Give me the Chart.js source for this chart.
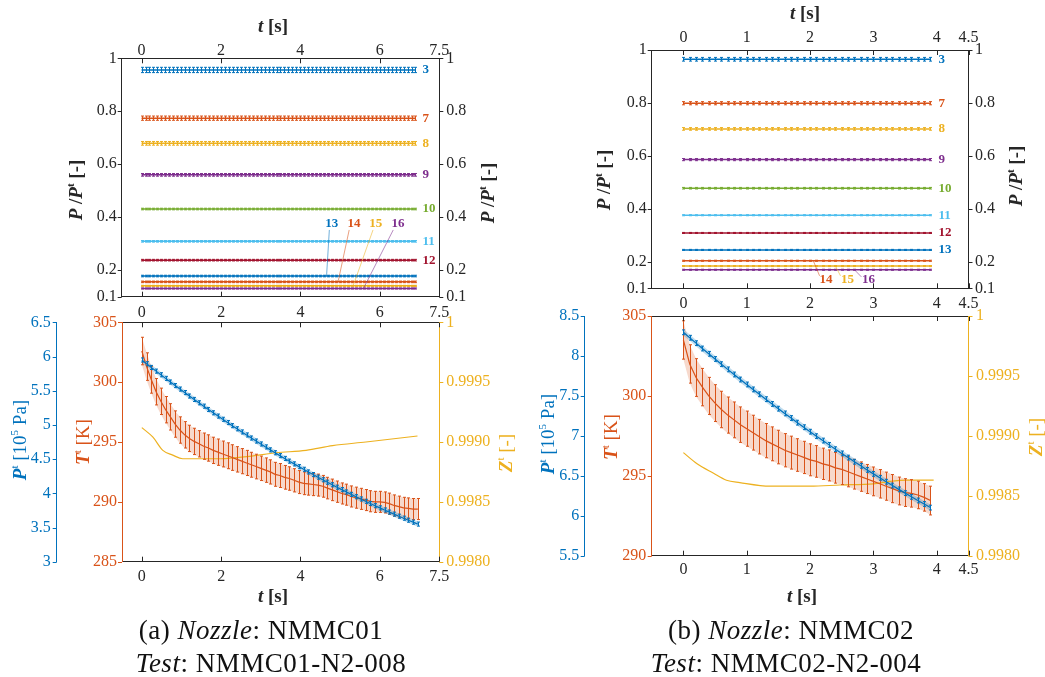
<!DOCTYPE html>
<html>
<head>
<meta charset="utf-8">
<script src="https://cdn.jsdelivr.net/npm/chart.js@4.4.1/dist/chart.umd.min.js"></script>
<style>
  body { margin:0; background:#fff; width:1045px; height:677px; position:relative; overflow:hidden; font-family:"Liberation Serif", serif; }
  canvas { position:absolute; left:0; top:0; }
  .cap { position:absolute; font-size:27px; line-height:30px; color:#111; white-space:nowrap; transform:translateX(-50%); letter-spacing:0.5px; }
</style>
</head>
<body>
<canvas id="cC" width="1045" height="677"></canvas>
<canvas id="cD" width="1045" height="677"></canvas>
<canvas id="cA" width="1045" height="677"></canvas>
<canvas id="cB" width="1045" height="677"></canvas>
<div class="cap" style="left:261px;top:615px">(a) <i>Nozzle</i>: NMMC01</div>
<div class="cap" style="left:271px;top:648px"><i>Test</i>: NMMC01-N2-008</div>
<div class="cap" style="left:791px;top:615px">(b) <i>Nozzle</i>: NMMC02</div>
<div class="cap" style="left:786px;top:648px"><i>Test</i>: NMMC02-N2-004</div>
<script>
// ---- data ----
const probes = [3, 7, 8, 9, 10, 11, 12, 13, 14, 15, 16];

// (a) NMMC01 pressure ratios
const tTop1 = [0,0.1,0.2,0.3,0.4,0.5,0.6,0.7,0.8,0.9,1,1.1,1.2,1.3,1.4,1.5,1.6,1.7,1.8,1.9,
  2,2.1,2.2,2.3,2.4,2.5,2.6,2.7,2.8,2.9,3,3.1,3.2,3.3,3.4,3.5,3.6,3.7,3.8,3.9,
  4,4.1,4.2,4.3,4.4,4.5,4.6,4.7,4.8,4.9,5,5.1,5.2,5.3,5.4,5.5,5.6,5.7,5.8,5.9,
  6,6.1,6.2,6.3,6.4,6.5,6.6,6.7,6.8,6.9];
const ratio1 = [0.956, 0.774, 0.679, 0.560, 0.431, 0.309, 0.238, 0.178, 0.156, 0.141, 0.131];
const ratioErr1 = [0.01, 0.008, 0.007, 0.005, 0.003, 0.003, 0.003, 0.003, 0.003, 0.002, 0.002];

// (b) NMMC02 pressure ratios (time base shared with the lower right plot)
const tB = [0,0.1,0.2,0.3,0.4,0.5,0.6,0.7,0.8,0.9,1,1.1,1.2,1.3,1.4,1.5,1.6,1.7,1.8,1.9,
  2,2.1,2.2,2.3,2.4,2.5,2.6,2.7,2.8,2.9,3,3.1,3.2,3.3,3.4,3.5,3.6,3.7,3.8,3.9];
const ratio2 = [0.965, 0.799, 0.702, 0.586, 0.478, 0.376, 0.309, 0.245, 0.204, 0.184, 0.170];
const ratioErr2 = [0.007, 0.006, 0.005, 0.004, 0.003, 0.002, 0.002, 0.002, 0.002, 0.002, 0.002];

// (a) stagnation conditions
const t1 = [0,0.12,0.24,0.36,0.48,0.6,0.72,0.84,0.96,1.08,1.2,1.32,1.44,1.56,1.68,1.8,1.92,2.04,
  2.16,2.28,2.4,2.52,2.64,2.76,2.88,3,3.12,3.24,3.36,3.48,3.6,3.72,3.84,3.96,
  4.08,4.2,4.32,4.44,4.56,4.68,4.8,4.92,5.04,5.16,5.28,5.4,5.52,5.64,5.76,5.88,
  6,6.12,6.24,6.36,6.48,6.6,6.72,6.84,6.96];
const pTot1 = [5.949,5.894,5.840,5.786,5.733,5.680,5.627,5.575,5.524,5.473,5.422,5.372,5.323,5.274,5.225,5.177,5.129,5.082,
  5.035,4.989,4.943,4.897,4.853,4.808,4.764,4.721,4.678,4.635,4.593,4.551,4.510,4.470,4.430,4.390,
  4.351,4.312,4.274,4.236,4.198,4.162,4.125,4.089,4.054,4.019,3.984,3.950,3.917,3.883,3.851,3.819,
  3.787,3.756,3.725,3.695,3.665,3.636,3.607,3.578,3.550];
const pTotErr1 = 0.03;
const tTot1 = [302.6,301.3,300.2,299.2,298.4,297.7,297.1,296.5,296.0,295.6,295.3,295.05,294.85,294.65,294.5,294.3,294.15,294.0,
  293.85,293.7,293.55,293.4,293.25,293.1,292.95,292.8,292.65,292.5,292.3,292.2,292.05,291.95,291.8,291.65,
  291.55,291.5,291.45,291.4,291.3,291.15,291.0,290.85,290.7,290.6,290.45,290.35,290.25,290.15,290.05,290.0,
  290.0,289.95,289.85,289.7,289.6,289.5,289.45,289.4,289.4];
const tTotErr1 = [1.15,1.15,1.12,1.1,1.1,1.1,1.1,1.1,1.1,1.1,1.1,1.1,1.1,1.1,1.1,1.1,1.1,1.08,
  1.08,1.07,1.06,1.05,1.05,1.04,1.03,1.02,1.02,1.01,1.0,1.0,0.99,0.98,0.97,0.96,
  0.95,0.94,0.93,0.92,0.91,0.9,0.9,0.89,0.88,0.88,0.88,0.88,0.88,0.88,0.88,0.88,
  0.88,0.88,0.88,0.88,0.88,0.88,0.88,0.88,0.88];
const tZ1 = [0, 0.28, 0.53, 0.78, 1.03, 1.45, 1.99, 2.71, 3.38, 4.14, 4.81, 5.65, 6.95];
const zTot1 = [0.99912, 0.99904, 0.99893, 0.99889, 0.99886, 0.99886, 0.99886, 0.99888, 0.99891, 0.99893, 0.99897, 0.99900, 0.99905];

// (b) stagnation conditions
const pTot2 = [8.296,8.228,8.160,8.093,8.027,7.962,7.897,7.832,7.768,7.705,7.643,7.581,7.520,7.459,7.399,7.340,7.281,7.223,7.165,7.108,
  7.052,6.996,6.941,6.887,6.833,6.780,6.728,6.676,6.625,6.574,6.524,6.475,6.426,6.378,6.330,6.283,6.237,6.191,6.147,6.102];
const pTotErr2 = 0.03;
const tTot2 = [303.5,302.0,301.15,300.55,300.0,299.55,299.15,298.8,298.5,298.2,297.95,297.7,297.45,297.2,297.0,296.8,296.6,296.45,296.3,296.15,
  296.0,295.9,295.75,295.65,295.5,295.4,295.25,295.1,294.95,294.8,294.65,294.5,294.35,294.2,294.05,293.95,293.9,293.8,293.65,293.45];
const tTotErr2 = [1.2,1.2,1.18,1.17,1.16,1.15,1.14,1.13,1.12,1.11,1.1,1.09,1.08,1.07,1.06,1.05,1.04,1.03,1.02,1.01,
  1.0,0.99,0.98,0.97,0.96,0.95,0.94,0.93,0.92,0.91,0.9,0.89,0.88,0.88,0.87,0.87,0.86,0.86,0.86,0.9];
const tZ2 = [0, 0.21, 0.47, 0.68, 0.89, 1.37, 2.0, 2.47, 3.0, 3.26, 3.53, 3.95];
const zTot2 = [0.99886, 0.99877, 0.99869, 0.99863, 0.99861, 0.99858, 0.99858, 0.99859, 0.99860, 0.99862, 0.99863, 0.99863];

// ticks
const xTicks1 = [0, 2, 4, 6, 7.5];
const xTicks2 = [0, 1, 2, 3, 4, 4.5];
const ratioTicks = [0.1, 0.2, 0.4, 0.6, 0.8, 1];
const pTicks1 = [3, 3.5, 4, 4.5, 5, 5.5, 6, 6.5];
const pTicks2 = [5.5, 6, 6.5, 7, 7.5, 8, 8.5];
const tTicks1 = [285, 290, 295, 300, 305];
const tTicks2 = [290, 295, 300, 305];
const zTicks = [0.998, 0.9985, 0.999, 0.9995, 1];
const zLabels = ['0.9980', '0.9985', '0.9990', '0.9995', '1'];

// ---- styles ----
const INK = '#262626';
const BLUE = '#0072BD', ORANGE = '#D95319', YELLOW = '#EDB120', PURPLE = '#7E2F8E',
      GREEN = '#77AC30', CYAN = '#4DBEEE', RED = '#A2142F';
const probeColors = [BLUE, ORANGE, YELLOW, PURPLE, GREEN, CYAN, RED, BLUE, ORANGE, YELLOW, PURPLE];

function fnt(style, size) { return style + ' ' + size + 'px "Liberation Serif"'; }

function richText(ctx, parts, x, y, rot, color) {
  ctx.save();
  ctx.translate(x, y);
  ctx.rotate(rot);
  ctx.fillStyle = color;
  ctx.textBaseline = 'alphabetic';
  let w = 0;
  parts.forEach(p => { ctx.font = p[1]; w += ctx.measureText(p[0]).width; });
  let cx = -w / 2;
  parts.forEach(p => {
    ctx.font = p[1];
    ctx.fillText(p[0], cx, 6.5 + (p[2] || 0));
    cx += ctx.measureText(p[0]).width;
  });
  ctx.restore();
}

const tLabel = [['t', fnt('italic bold', 19)], [' [s]', fnt('bold', 19)]];
const ratioLabel = [['P', fnt('italic bold', 19)], [' /', fnt('bold', 19)], ['P', fnt('italic bold', 19)],
                    ['t', fnt('bold', 11), -8], [' [-]', fnt('bold', 19)]];
const pLabel = [['P', fnt('italic bold', 19)], ['t', fnt('', 11), -8], [' [10', fnt('', 19)], ['5', fnt('', 11), -8], [' Pa]', fnt('', 19)]];
const TLabel = [['T', fnt('italic bold', 19)], ['t', fnt('', 11), -8], [' [K]', fnt('', 19)]];
const zLabel = [['Z', fnt('italic bold', 19)], ['t', fnt('', 11), -8], [' [-]', fnt('', 19)]];

function axis(pos, min, max, ticks, size, pad, color, weight, labels, hideLabels) {
  return {
    type: 'linear', position: pos, min: min, max: max, weight: weight || 0,
    afterBuildTicks: s => { s.ticks = ticks.map(v => ({ value: v })); },
    afterFit: s => { if (pos === 'top' || pos === 'bottom') s.height = size; else s.width = size; },
    grid: { display: false, drawTicks: false },
    border: { display: true, color: color, width: 1 },
    ticks: {
      color: hideLabels ? 'rgba(0,0,0,0)' : color, padding: pad, autoSkip: false, maxRotation: 0,
      font: { family: 'Liberation Serif', size: 16, lineHeight: 1 },
      callback: (v, i) => labels ? labels[i] : String(v)
    }
  };
}

const al = v => Math.round(v) + 0.5;

const deco = {
  id: 'deco',
  afterDatasetDraw(chart, args) {
    const ds = chart.data.datasets[args.index];
    if (ds.errs === undefined) return;
    const ctx = chart.ctx, ys = chart.scales[ds.yAxisID];
    ctx.save();
    ctx.strokeStyle = ds.borderColor;
    ctx.lineWidth = 1;
    args.meta.data.forEach((pt, i) => {
      const v = ds.data[i].y;
      const e = Array.isArray(ds.errs) ? ds.errs[i] : ds.errs;
      const x = al(pt.x), y1 = ys.getPixelForValue(v + e), y2 = ys.getPixelForValue(v - e);
      ctx.beginPath();
      ctx.moveTo(x, y1); ctx.lineTo(x, y2);
      ctx.moveTo(x - 1.5, y1); ctx.lineTo(x + 1.5, y1);
      ctx.moveTo(x - 1.5, y2); ctx.lineTo(x + 1.5, y2);
      ctx.stroke();
    });
    ctx.restore();
  },
  afterDraw(chart, args, opts) {
    const ctx = chart.ctx;
    ctx.save();
    ctx.lineWidth = 1;
    Object.values(chart.scales).forEach(s => {
      ctx.strokeStyle = s.options.border.color;
      s.ticks.forEach(tk => {
        const p = al(s.getPixelForValue(tk.value));
        ctx.beginPath();
        if (s.position === 'bottom') { ctx.moveTo(p, s.top); ctx.lineTo(p, s.top - 5); }
        else if (s.position === 'top') { ctx.moveTo(p, s.bottom); ctx.lineTo(p, s.bottom + 5); }
        else if (s.position === 'left') { ctx.moveTo(s.right, p); ctx.lineTo(s.right - 4, p); }
        else { ctx.moveTo(s.left, p); ctx.lineTo(s.left + 4, p); }
        ctx.stroke();
      });
    });
    (opts.titles || []).forEach(tl => richText(ctx, tl.parts, tl.x, tl.y, tl.rot || 0, tl.color || INK));
    const xs = chart.scales.x, ys = chart.scales.y;
    ctx.font = fnt('bold', 13);
    ctx.textBaseline = 'middle';
    (opts.tags || []).forEach(tg => {
      const x = xs.getPixelForValue(tg.t) + (tg.dx || 0);
      const y = ys.getPixelForValue(tg.v);
      ctx.fillStyle = tg.color;
      ctx.textAlign = tg.align || 'center';
      ctx.fillText(tg.text, x, y);
      if (tg.line) {
        ctx.strokeStyle = tg.color;
        ctx.globalAlpha = 0.7;
        ctx.lineWidth = 0.8;
        ctx.beginPath();
        ctx.moveTo(xs.getPixelForValue(tg.line[0]), ys.getPixelForValue(tg.line[1]));
        ctx.lineTo(xs.getPixelForValue(tg.line[2]), ys.getPixelForValue(tg.line[3]));
        ctx.stroke();
        ctx.globalAlpha = 1;
      }
    });
    ctx.restore();
  }
};

function flatSets(times, levels, errs) {
  return levels.map((lv, i) => ({
    data: times.map(t => ({ x: t, y: lv })),
    borderColor: probeColors[i], borderWidth: 1.5, pointRadius: 0,
    errs: errs[i], xAxisID: 'x', yAxisID: 'y'
  }));
}

function endTags(times, levels, skip, dx) {
  const tEnd = times[times.length - 1];
  return probes.map((p, i) => ({ text: String(p), color: probeColors[i], t: tEnd, v: levels[i], dx: dx, align: 'left' }))
               .filter(tg => skip.indexOf(Number(tg.text)) < 0);
}

function stagSets(t, p, pErr, T, TErr, tz, z, yP, yT, yZ) {
  return [
    { data: t.map((x, i) => ({ x: x, y: p[i] })), borderColor: BLUE, borderWidth: 1.2, pointRadius: 0,
      errs: pErr, xAxisID: 'x', yAxisID: yP },
    { data: t.map((x, i) => ({ x: x, y: T[i] })), borderColor: ORANGE, borderWidth: 1.2, pointRadius: 0,
      errs: TErr, xAxisID: 'x', yAxisID: yT },
    { data: tz.map((x, i) => ({ x: x, y: z[i] })), borderColor: YELLOW, borderWidth: 1.2, pointRadius: 0,
      cubicInterpolationMode: 'monotone', xAxisID: 'x', yAxisID: yZ },
    { data: t.map((x, i) => ({ x: x, y: p[i] + pErr * 1.3 })), borderWidth: 0, pointRadius: 0, xAxisID: 'x', yAxisID: yP },
    { data: t.map((x, i) => ({ x: x, y: p[i] - pErr * 1.3 })), borderWidth: 0, pointRadius: 0, xAxisID: 'x', yAxisID: yP,
      fill: '-1', backgroundColor: 'rgba(0,114,189,0.25)' },
    { data: t.map((x, i) => ({ x: x, y: T[i] + TErr[i] })), borderWidth: 0, pointRadius: 0, xAxisID: 'x', yAxisID: yT },
    { data: t.map((x, i) => ({ x: x, y: T[i] - TErr[i] })), borderWidth: 0, pointRadius: 0, xAxisID: 'x', yAxisID: yT,
      fill: '-1', backgroundColor: 'rgba(217,83,25,0.22)' }
  ];
}

function baseOpts(scales, deco) {
  return {
    responsive: false, animation: false, events: [],
    layout: { padding: 0 },
    plugins: { legend: { display: false }, tooltip: { enabled: false }, deco: deco },
    scales: scales
  };
}

// (a) top
new Chart(document.getElementById('cA'), {
  type: 'line',
  data: { datasets: flatSets(tTop1, ratio1, ratioErr1) },
  options: baseOpts({
    x: axis('bottom', -0.5, 7.5, xTicks1, 677 - 296.7, 3, INK, 0, null, true),
    x2: axis('top', -0.5, 7.5, xTicks1, 58.3, 0, INK),
    y: axis('left', 0.1, 1, ratioTicks, 121.7, 5, INK),
    y2: axis('right', 0.1, 1, ratioTicks, 1045 - 439.3, 7, INK)
  }, {
    titles: [
      { parts: tLabel, x: 273, y: 25 },
      { parts: ratioLabel, x: 75, y: 190, rot: -Math.PI / 2 },
      { parts: ratioLabel, x: 487, y: 193, rot: -Math.PI / 2 }
    ],
    tags: endTags(tTop1, ratio1, [13, 14, 15, 16], 7).concat([
      { text: '13', color: BLUE, t: 4.79, v: 0.375, line: [4.73, 0.352, 4.66, 0.178] },
      { text: '14', color: ORANGE, t: 5.35, v: 0.375, line: [5.23, 0.352, 4.95, 0.156] },
      { text: '15', color: YELLOW, t: 5.90, v: 0.375, line: [5.83, 0.352, 5.33, 0.141] },
      { text: '16', color: PURPLE, t: 6.46, v: 0.375, line: [6.34, 0.352, 5.59, 0.131] }
    ])
  }),
  plugins: [deco]
});

// (b) top
new Chart(document.getElementById('cB'), {
  type: 'line',
  data: { datasets: flatSets(tB, ratio2, ratioErr2) },
  options: baseOpts({
    x: axis('bottom', -0.5, 4.5, xTicks2, 677 - 288.3, 6, INK, 0, null, true),
    x2: axis('top', -0.5, 4.5, xTicks2, 50, 4, INK),
    y: axis('left', 0.1, 1, ratioTicks, 651.7, 5, INK),
    y2: axis('right', 0.1, 1, ratioTicks, 1045 - 968.5, 6.5, INK)
  }, {
    titles: [
      { parts: tLabel, x: 805, y: 12 },
      { parts: ratioLabel, x: 603, y: 180, rot: -Math.PI / 2 },
      { parts: ratioLabel, x: 1015, y: 176, rot: -Math.PI / 2 }
    ],
    tags: endTags(tB, ratio2, [14, 15, 16], 8).concat([
      { text: '14', color: ORANGE, t: 2.25, v: 0.134, line: [2.05, 0.204, 2.15, 0.147] },
      { text: '15', color: YELLOW, t: 2.59, v: 0.134, line: [2.40, 0.184, 2.48, 0.147] },
      { text: '16', color: PURPLE, t: 2.92, v: 0.134, line: [2.70, 0.170, 2.81, 0.143] }
    ])
  }),
  plugins: [deco]
});

// (a) bottom
new Chart(document.getElementById('cC'), {
  type: 'line',
  data: { datasets: stagSets(t1, pTot1, pTotErr1, tTot1, tTotErr1, tZ1, zTot1, 'yP', 'yT', 'yZ') },
  options: baseOpts({
    x: axis('bottom', -0.5, 7.5, xTicks1, 677 - 561.7, 7, INK),
    x2: axis('top', -0.5, 7.5, xTicks1, 322.3, 2, INK),
    yP: axis('left', 3, 6.5, pTicks1, 56.7, 6, BLUE, 1),
    yT: axis('left', 285, 305, tTicks1, 65.3, 5, ORANGE, 0),
    yZ: axis('right', 0.998, 1, zTicks, 1045 - 439.3, 7, YELLOW, 0, zLabels)
  }, {
    titles: [
      { parts: tLabel, x: 273, y: 595 },
      { parts: pLabel, x: 19, y: 440, rot: -Math.PI / 2, color: BLUE },
      { parts: TLabel, x: 82, y: 442, rot: -Math.PI / 2, color: ORANGE },
      { parts: zLabel, x: 505, y: 453, rot: -Math.PI / 2, color: YELLOW }
    ]
  }),
  plugins: [deco]
});

// (b) bottom
new Chart(document.getElementById('cD'), {
  type: 'line',
  data: { datasets: stagSets(tB, pTot2, pTotErr2, tTot2, tTotErr2, tZ2, zTot2, 'yP', 'yT', 'yZ') },
  options: baseOpts({
    x: axis('bottom', -0.5, 4.5, xTicks2, 677 - 555.7, 6, INK),
    x2: axis('top', -0.5, 4.5, xTicks2, 316, 4.7, INK),
    yP: axis('left', 5.5, 8.5, pTicks2, 584.7, 5.5, BLUE, 1),
    yT: axis('left', 290, 305, tTicks2, 67, 5.5, ORANGE, 0),
    yZ: axis('right', 0.998, 1, zTicks, 1045 - 968.5, 7.5, YELLOW, 0, zLabels)
  }, {
    titles: [
      { parts: tLabel, x: 802, y: 595 },
      { parts: pLabel, x: 547, y: 434, rot: -Math.PI / 2, color: BLUE },
      { parts: TLabel, x: 610, y: 437, rot: -Math.PI / 2, color: ORANGE },
      { parts: zLabel, x: 1035, y: 437, rot: -Math.PI / 2, color: YELLOW }
    ]
  }),
  plugins: [deco]
});
</script>
</body>
</html>
